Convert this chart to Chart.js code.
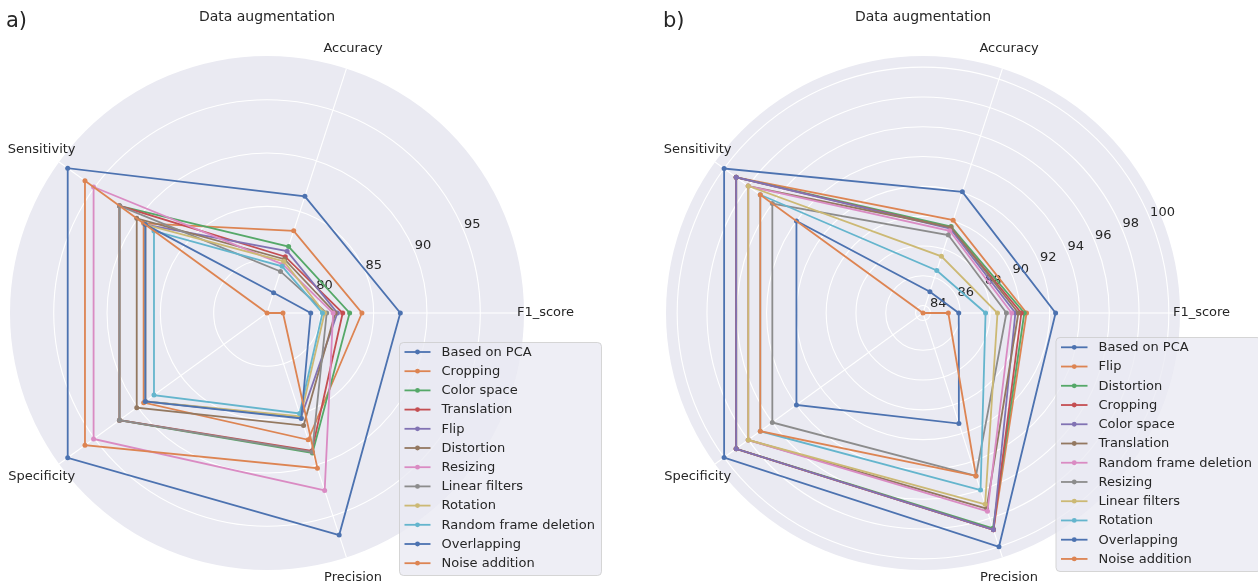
<!DOCTYPE html>
<html>
<head>
<meta charset="utf-8">
<script src="https://cdn.jsdelivr.net/npm/chart.js@4.4.1/dist/chart.umd.min.js"></script>
<style>
  html, body { margin: 0; padding: 0; background: #ffffff; }
  #wrap { position: relative; width: 1258px; height: 584px; overflow: hidden; }
  .panel { position: absolute; top: 0; width: 629px; height: 584px; }
  #pa { left: 0; }
  #pb { left: 629px; }
</style>
</head>
<body>
<div id="wrap">
  <div class="panel" id="pa"><canvas id="ca"></canvas></div>
  <div class="panel" id="pb"><canvas id="cb"></canvas></div>
</div>
<script>
// Metric axes, listed clockwise starting from the right-hand axis
const metrics = ['F1_score', 'Precision', 'Specificity', 'Sensitivity', 'Accuracy'];

// Seaborn "deep" palette, cycled over the series
const palette = ['#4C72B0', '#DD8452', '#55A868', '#C44E52', '#8172B3', '#937860',
                 '#DA8BC3', '#8C8C8C', '#CCB974', '#64B5CD', '#4C72B0', '#DD8452'];

// ---- Panel a) ----  values: F1, Precision, Specificity, Sensitivity, Accuracy
const namesA = ['Based on PCA', 'Cropping', 'Color space', 'Translation', 'Flip', 'Distortion',
                'Resizing', 'Linear filters', 'Rotation', 'Random frame deletion', 'Overlapping', 'Noise addition'];
const a_pca         = [87.5, 96.9, 98.1, 98.1, 86.5];
const a_cropping    = [83.9, 87.5, 89.3, 89.3, 83.1];
const a_colorSpace  = [82.75, 88.8, 92.1, 92.1, 81.55];
const a_translation = [82.1, 88.6, 92.1, 92.1, 80.55];
const a_flip        = [81.6, 85.3, 89.1, 89.1, 81.1];
const a_distortion  = [81.4, 86.1, 90.1, 90.1, 80.3];
const a_resizing    = [81.2, 92.5, 95.1, 95.1, 79.8];
const a_linear      = [80.6, 88.7, 92.1, 92.1, 79.1];
const a_rotation    = [80.4, 85.2, 89.1, 89.1, 80.1];
const a_frameDel    = [80.2, 84.9, 88.1, 88.1, 79.6];
const a_overlapping = [79.1, 85.4, 89.1, 89.1, 77.0];
const a_noise       = [76.5, 90.3, 96.1, 96.1, 75.0];
const valuesA = [a_pca, a_cropping, a_colorSpace, a_translation, a_flip, a_distortion,
                 a_resizing, a_linear, a_rotation, a_frameDel, a_overlapping, a_noise];
const rangeA = [75, 99.1];
const ticksA = [80, 85, 90, 95];

// ---- Panel b) ----
const namesB = ['Based on PCA', 'Flip', 'Distortion', 'Cropping', 'Color space', 'Translation',
                'Random frame deletion', 'Resizing', 'Linear filters', 'Rotation', 'Overlapping', 'Noise addition'];
const b_pca         = [92.4, 100.0, 100.0, 100.0, 92.05];
const b_flip        = [90.45, 98.8, 99.0, 99.0, 90.05];
const b_distortion  = [90.3, 98.7, 99.0, 99.0, 89.6];
const b_cropping    = [90.1, 98.8, 99.0, 99.0, 89.5];
const b_colorSpace  = [89.7, 98.8, 99.0, 99.0, 89.45];
const b_translation = [89.9, 97.3, 98.0, 98.0, 89.55];
const b_frameDel    = [89.45, 97.5, 98.0, 98.0, 89.3];
const b_resizing    = [89.1, 95.0, 96.0, 96.0, 89.0];
const b_linear      = [88.5, 97.0, 98.0, 98.0, 87.5];
const b_rotation    = [87.7, 96.0, 97.0, 97.0, 86.5];
const b_overlapping = [85.9, 91.3, 94.0, 94.0, 85.0];
const b_noise       = [85.2, 95.0, 97.0, 97.0, 83.5];
const valuesB = [b_pca, b_flip, b_distortion, b_cropping, b_colorSpace, b_translation,
                 b_frameDel, b_resizing, b_linear, b_rotation, b_overlapping, b_noise];
const rangeB = [83.5, 100.75];
const ticksB = [84, 86, 88, 90, 92, 94, 96, 98, 100];

const TEXT = '#262626';
const FONT = '"DejaVu Sans", "Liberation Sans", sans-serif';

// Titles, axis names, radial tick labels and the legend box
function decorPlugin(cfg) {
  return {
    id: 'decor',
    beforeDatasetsDraw(chart) {
      const r = chart.scales.r, ctx = chart.ctx;
      ctx.save();
      ctx.font = '13px ' + FONT;
      ctx.fillStyle = TEXT;
      ctx.textAlign = 'left';
      ctx.textBaseline = 'bottom';
      cfg.ticks.forEach(v => {
        const p = r.getPointPosition(0, r.getDistanceFromCenterForValue(v), -Math.PI / 8);
        ctx.fillText(String(v), p.x, p.y);
      });
      ctx.restore();
    },
    afterDraw(chart) {
      const r = chart.scales.r, ctx = chart.ctx;
      ctx.save();
      ctx.fillStyle = TEXT;
      // panel letter
      ctx.font = '21px ' + FONT;
      ctx.textAlign = 'left';
      ctx.textBaseline = 'alphabetic';
      ctx.fillText(cfg.letter, cfg.letterX, 26.5);
      // title
      ctx.font = '14px ' + FONT;
      ctx.textAlign = 'center';
      ctx.fillText('Data augmentation', r.xCenter, 20.5);
      // axis names
      ctx.font = '13px ' + FONT;
      ctx.textBaseline = 'middle';
      metrics.forEach((m, i) => {
        const p = r.getPointPosition(i, r.drawingArea + 21.5);
        ctx.fillText(m, p.x, p.y);
      });
      // legend
      const L = cfg.legend;
      ctx.beginPath();
      ctx.roundRect(L.x + 0.5, L.y + 0.5, L.w, L.h, 4);
      ctx.fillStyle = 'rgba(234,234,242,0.8)';
      ctx.fill();
      ctx.strokeStyle = 'rgba(204,204,204,0.8)';
      ctx.lineWidth = 1;
      ctx.stroke();
      ctx.font = '13px ' + FONT;
      ctx.textAlign = 'left';
      ctx.textBaseline = 'middle';
      chart.data.datasets.forEach((ds, i) => {
        const y = L.first + i * L.step;
        ctx.strokeStyle = ds.borderColor;
        ctx.lineWidth = 1.8;
        ctx.beginPath();
        ctx.moveTo(L.hx0, y);
        ctx.lineTo(L.hx1, y);
        ctx.stroke();
        ctx.fillStyle = ds.borderColor;
        ctx.beginPath();
        ctx.arc((L.hx0 + L.hx1) / 2, y, 2.4, 0, Math.PI * 2);
        ctx.fill();
        ctx.fillStyle = TEXT;
        ctx.fillText(ds.label, L.tx, y + 0.5);
      });
      ctx.restore();
    }
  };
}

function makeChart(canvasId, names, values, range, ticks, padding, cfg) {
  const n = names.length;
  const datasets = names.map((name, i) => ({
    label: name,
    data: values[i],
    borderColor: palette[i],
    backgroundColor: palette[i],
    pointBackgroundColor: palette[i],
    pointBorderColor: palette[i],
    pointBorderWidth: 0,
    pointRadius: 2.5,
    borderWidth: 1.8,
    fill: false,
    tension: 0,
    order: n - i   // later series are painted on top
  }));
  cfg.ticks = ticks;
  return new Chart(document.getElementById(canvasId), {
    type: 'radar',
    data: { labels: metrics, datasets },
    options: {
      responsive: true,
      maintainAspectRatio: false,
      devicePixelRatio: 1,
      animation: false,
      events: [],
      layout: { padding },
      plugins: { legend: { display: false }, title: { display: false }, tooltip: { enabled: false } },
      scales: {
        r: {
          min: range[0],
          max: range[1],
          startAngle: 90,
          backgroundColor: '#EAEAF2',
          grid: { circular: true, color: '#FFFFFF', lineWidth: 1.1 },
          angleLines: { color: '#FFFFFF', lineWidth: 1.1 },
          pointLabels: { display: false },
          ticks: { display: false },
          afterBuildTicks: (scale) => {
            scale.ticks = [range[0], ...ticks].map(v => ({ value: v }));
          }
        }
      }
    },
    plugins: [decorPlugin(cfg)]
  });
}

makeChart('ca', namesA, valuesA, rangeA, ticksA,
  { left: 10, top: 56, right: 105, bottom: 14 },
  { letter: 'a)', letterX: 6,
    legend: { x: 399, y: 342, w: 202, h: 233, first: 352, step: 19.2, hx0: 404.5, hx1: 430.5, tx: 441.5 } });

makeChart('cb', namesB, valuesB, rangeB, ticksB,
  { left: 37, top: 56, right: 78, bottom: 14 },
  { letter: 'b)', letterX: 34,
    legend: { x: 426.5, y: 337, w: 205, h: 234, first: 347.3, step: 19.24, hx0: 432, hx1: 458.5, tx: 469.5 } });
</script>
</body>
</html>
